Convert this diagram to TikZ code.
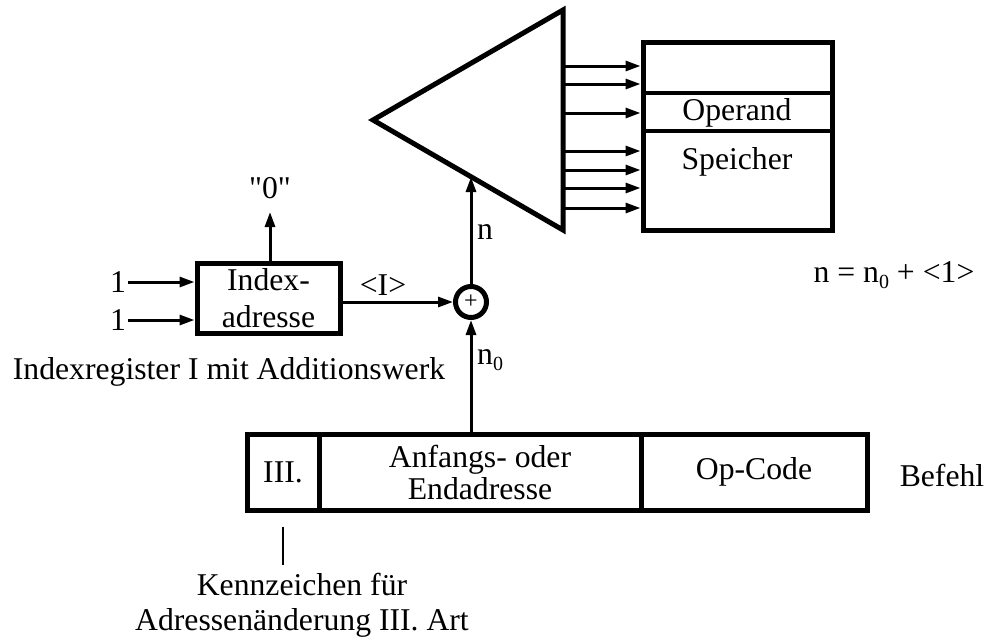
\documentclass[tikz,border=0pt]{standalone}
\usepackage{fontspec}
\newfontfamily\diagfont{Liberation Serif}
\usetikzlibrary{arrows.meta}
\begin{document}
\begin{tikzpicture}[x=1pt,y=-1pt,
  lbl/.style={font={\diagfont\fontsize{31.7}{35}\selectfont}, inner sep=0pt, align=center},
  conn/.style={line width=3pt, -{Triangle[length=15pt,width=10pt]}},
  heavy/.style={line width=5pt},
  field/.style={draw, heavy, lbl, minimum height=76pt},
]
\useasboundingbox (0,0) rectangle (988,641);

% address decoder (triangle)
\coordinate (tT) at (563,10);
\coordinate (tL) at (373,120);
\coordinate (tB) at (563,230);
\draw[heavy, line join=miter] (tT) -- (tL) -- (tB) -- cycle;

% memory
\node[draw, heavy, minimum width=189pt, minimum height=188pt, inner sep=0pt] (mem) at (737.5,136) {};
\draw[line width=4pt] (643,93) -- (832,93);
\draw[line width=4pt] (643,131) -- (832,131);
\node[lbl] (op) at (737,113) {Operand};
\node[lbl] (sp) at (737,162) {Speicher};

% selection lines from decoder to memory
\foreach \y [count=\i] in {66,84,113,151,170,188,208} {
  \coordinate (s\i) at (563,\y);
  \draw[conn] (s\i) -- (s\i -| mem.west);
}

% adder
\node[draw, circle, line width=5pt, minimum size=31pt, inner sep=0pt,
      font={\diagfont\fontsize{24}{24}\selectfont}] (sum) at (471,302) {+};
\coordinate (nTip) at (471,177);
\draw[conn] (sum.north) -- (nTip);
\node[lbl, anchor=west] (nlab) at (477,232) {n};

% index register
\node[draw, heavy, lbl, font={\diagfont\fontsize{31.7}{37}\selectfont},
      minimum width=143pt, minimum height=70pt] (idx) at (268.5,298) {Index-\\adresse};
\node[lbl] (in1) at (118,282) {1};
\node[lbl] (in2) at (118,320) {1};
\draw[conn] ([xshift=2pt]in1.east) -- (in1.east -| idx.west);
\draw[conn] ([xshift=2pt]in2.east) -- (in2.east -| idx.west);
\node[lbl] (zero) at (270,188) {"0"};
\coordinate (zeroTip) at (270,212);
\draw[conn] (idx.north -| zeroTip) -- (zeroTip);
\draw[conn] (idx.east |- sum.west) -- (sum.west);
\node[lbl] (ival) at (383,285) {<I>};
\node[lbl] (ireg) at (229,372) {Indexregister I mit Additionswerk};

% instruction word
\node[field, minimum width=72pt] (f1) at (283,472) {III.};
\node[field, minimum width=322pt, font={\diagfont\fontsize{31.7}{32}\selectfont}] (f2) at (480,472) {Anfangs- oder\\Endadresse};
\node[field, minimum width=226pt] (f3) at (754,472) {Op-Code};
\node[lbl] (bef) at (942,475) {Befehl};

\draw[conn] (f2.north -| sum) -- (sum.south);
\node[lbl, anchor=west] (n0lab) at (477,360) {n\raisebox{-0.2em}{\fontsize{20}{20}\selectfont 0}};

% formula
\node[lbl] (eq) at (894,275) {n = n\raisebox{-0.2em}{\fontsize{20}{20}\selectfont 0} + <1>};

% flag explanation
\node[lbl] (kz) at (302,605) {Kennzeichen für\\Adressenänderung III. Art};
\draw[line width=2pt, shorten <=14pt, shorten >=8pt] (f1.south) -- (f1.south |- kz.north);
\end{tikzpicture}
\end{document}
